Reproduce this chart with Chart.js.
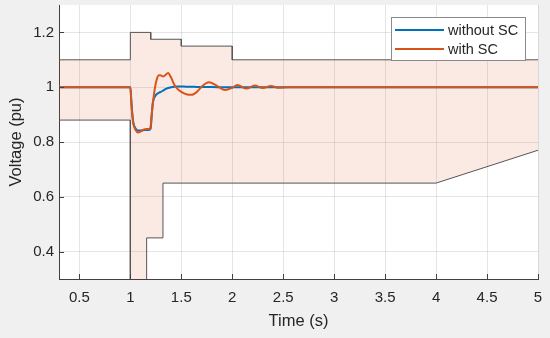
<!DOCTYPE html>
<html>
<head>
<meta charset="utf-8">
<script src="https://cdn.jsdelivr.net/npm/chart.js@4.4.1/dist/chart.umd.min.js"></script>
<style>
    html, body { margin: 0; padding: 0; background: #f0f0f0; }
    #wrap { width: 550px; height: 338px; position: relative; }
</style>
</head>
<body>
<div id="wrap"><canvas id="voltageChart"></canvas></div>
<script>
// grid-code envelope (vertices, steps written as repeated times)
const upperT = [0.3, 1.0, 1.0, 1.2, 1.2, 1.5, 1.5, 2.0, 2.0, 5.0];
const upperV = [1.1, 1.1, 1.2, 1.2, 1.175, 1.175, 1.15, 1.15, 1.1, 1.1];
const lowerT = [0.3, 1.0, 1.0, 1.16, 1.16, 1.32, 1.32, 4.0, 5.0];
const lowerV = [0.88, 0.88, 0.0, 0.0, 0.45, 0.45, 0.65, 0.65, 0.77];

// simulated voltage at the connection point
const simT = [0.3, 1.0, 1.01, 1.02, 1.03, 1.05, 1.075, 1.1, 1.13, 1.16, 1.19, 1.2, 1.21, 1.22, 1.23,
    1.24, 1.26, 1.28, 1.3, 1.32, 1.34, 1.37, 1.4, 1.43, 1.46, 1.5, 1.55, 1.6, 1.65, 1.7, 1.77,
    1.85, 1.93, 2.0, 2.05, 2.14, 2.22, 2.3, 2.38, 2.46, 2.55, 5.0];
const withoutSC = [1.0, 1.0, 0.95, 0.9, 0.87, 0.85, 0.842, 0.842, 0.843, 0.844, 0.845, 0.85, 0.9, 0.94, 0.958,
    0.965, 0.975, 0.98, 0.983, 0.987, 0.992, 0.997, 1.0, 1.002, 1.003, 1.003, 1.002, 1.002, 1.001, 1.001, 1.001,
    1.0, 1.0, 1.0, 1.0, 1.0, 1.0, 1.0, 1.0, 1.0, 1.0, 1.0];
const withSC = [1.0, 1.0, 0.94, 0.895, 0.865, 0.845, 0.835, 0.838, 0.845, 0.847, 0.848, 0.86, 0.9, 0.94, 0.968,
    0.995, 1.03, 1.044, 1.043, 1.039, 1.043, 1.052, 1.035, 1.01, 0.995, 0.983, 0.974, 0.972, 0.982, 1.002, 1.018,
    1.005, 0.99, 0.998, 1.008, 0.995, 1.006, 0.997, 1.004, 0.998, 1.0, 1.0];

const xTicks = [0.5, 1, 1.5, 2, 2.5, 3, 3.5, 4, 4.5, 5];
const yTicks = [0.4, 0.6, 0.8, 1, 1.2];
const seriesNames = ["without SC", "with SC"];

const BLUE = "#0072bd";
const ORANGE = "#d95319";
const AXIS = "#404040";
const TEXT = "#262626";
const FONT = "'Liberation Sans', Arial, sans-serif";

function pts(ts, vs) {
    return ts.map((t, i) => ({ x: t, y: vs[i] }));
}

const backdrop = {
    id: "backdrop",
    beforeDraw(chart) {
        const { ctx, chartArea: a } = chart;
        ctx.save();
        ctx.fillStyle = "#f0f0f0";
        ctx.fillRect(0, 0, chart.width, chart.height);
        ctx.fillStyle = "#ffffff";
        ctx.fillRect(a.left, a.top, a.right - a.left, a.bottom - a.top);
        ctx.restore();
    },
};

// matlab style ticks pointing into the axes + boxed legend
const axesDecor = {
    id: "axesDecor",
    afterDraw(chart) {
        const { ctx, chartArea: a, scales } = chart;
        ctx.save();
        ctx.strokeStyle = AXIS;
        ctx.lineWidth = 1;
        ctx.beginPath();
        xTicks.forEach((v) => {
            const px = Math.round(scales.x.getPixelForValue(v)) + 0.5;
            ctx.moveTo(px, a.bottom);
            ctx.lineTo(px, a.bottom - 5);
        });
        yTicks.forEach((v) => {
            const py = Math.round(scales.y.getPixelForValue(v)) + 0.5;
            ctx.moveTo(a.left, py);
            ctx.lineTo(a.left + 5, py);
        });
        ctx.stroke();

        const bx = 391, by = 17, bw = 134, bh = 43;
        ctx.fillStyle = "#ffffff";
        ctx.fillRect(bx, by, bw, bh);
        ctx.strokeStyle = "#8a8a8a";
        ctx.strokeRect(bx + 0.5, by + 0.5, bw, bh);
        ctx.font = "14.5px " + FONT;
        ctx.textBaseline = "middle";
        ctx.fillStyle = TEXT;
        [BLUE, ORANGE].forEach((c, i) => {
            const y = by + 13 + i * 19;
            ctx.strokeStyle = c;
            ctx.lineWidth = 2;
            ctx.beginPath();
            ctx.moveTo(bx + 4, y);
            ctx.lineTo(bx + 53, y);
            ctx.stroke();
            ctx.fillText(seriesNames[i], bx + 57, y + 1);
        });
        ctx.restore();
    },
};

const chart = new Chart(document.getElementById("voltageChart").getContext("2d"), {
    type: "line",
    data: {
        datasets: [
            {
                label: "upper limit",
                data: pts(upperT, upperV),
                borderColor: "#555555",
                borderWidth: 1,
                backgroundColor: "rgba(217, 83, 25, 0.12)",
                fill: "+1",
                pointRadius: 0,
                order: 3,
            },
            {
                label: "lower limit",
                data: pts(lowerT, lowerV),
                borderColor: "#555555",
                borderWidth: 1,
                fill: false,
                pointRadius: 0,
                order: 2,
            },
            {
                label: seriesNames[0],
                data: pts(simT, withoutSC),
                borderColor: BLUE,
                borderWidth: 2,
                fill: false,
                pointRadius: 0,
                cubicInterpolationMode: "monotone",
                order: 1,
            },
            {
                label: seriesNames[1],
                data: pts(simT, withSC),
                borderColor: ORANGE,
                borderWidth: 2,
                fill: false,
                pointRadius: 0,
                cubicInterpolationMode: "monotone",
                order: 0,
            },
        ],
    },
    options: {
        responsive: true,
        maintainAspectRatio: false,
        animation: false,
        layout: { padding: { left: 0, right: 12, top: 5, bottom: 0 } },
        plugins: {
            legend: { display: false },
            tooltip: { enabled: false },
        },
        scales: {
            x: {
                type: "linear",
                min: 0.3,
                max: 5,
                afterFit(scale) {
                    scale.height = 59;
                    scale.paddingLeft = 0;
                    scale.paddingRight = 0;
                },
                afterBuildTicks(scale) { scale.ticks = xTicks.map((v) => ({ value: v })); },
                grid: { color: "rgba(38, 38, 38, 0.12)", drawTicks: false },
                border: { display: true, color: AXIS, width: 1 },
                ticks: {
                    padding: 10,
                    color: TEXT,
                    maxRotation: 0,
                    font: { family: FONT, size: 15 },
                    callback: (v) => String(v),
                },
                title: {
                    display: true,
                    text: "Time (s)",
                    color: TEXT,
                    padding: { top: 0, bottom: 7 },
                    font: { family: FONT, size: 16.5 },
                },
            },
            y: {
                min: 0.3,
                max: 1.3,
                afterFit(scale) {
                    scale.width = 59;
                    scale.paddingTop = 0;
                    scale.paddingBottom = 0;
                },
                afterBuildTicks(scale) { scale.ticks = yTicks.map((v) => ({ value: v })); },
                grid: { color: "rgba(38, 38, 38, 0.12)", drawTicks: false },
                border: { display: true, color: AXIS, width: 1 },
                ticks: {
                    padding: 5,
                    color: TEXT,
                    font: { family: FONT, size: 15 },
                    callback: (v) => String(v),
                },
                title: {
                    display: true,
                    text: "Voltage (pu)",
                    color: TEXT,
                    padding: { top: 7, bottom: 0 },
                    font: { family: FONT, size: 16.5 },
                },
            },
        },
    },
    plugins: [backdrop, axesDecor],
});
</script>
</body>
</html>
